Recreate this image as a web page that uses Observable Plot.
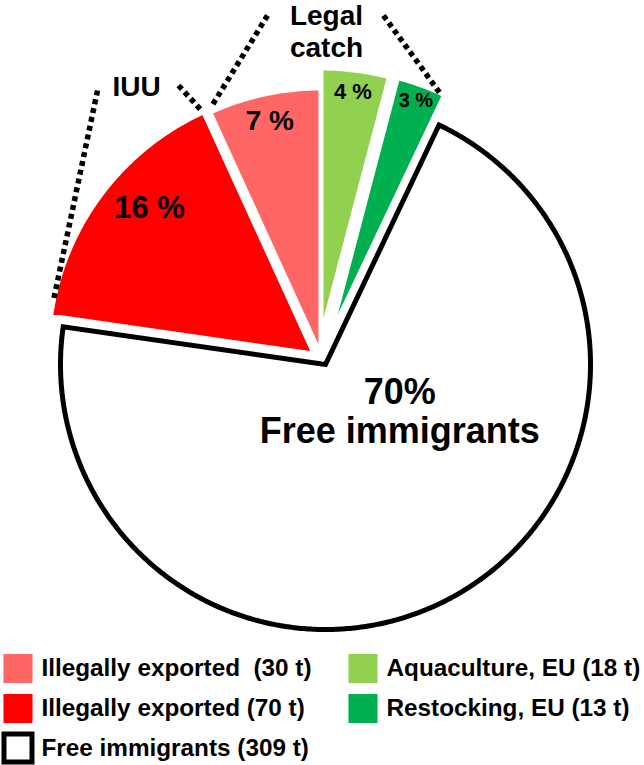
<!DOCTYPE html>
<html><head><meta charset="utf-8">
<script src="https://cdn.jsdelivr.net/npm/d3@7"></script>
<script src="https://cdn.jsdelivr.net/npm/@observablehq/plot@0.6"></script>
<style>body{margin:0;background:#fff} #chart svg{display:block}</style>
</head><body><div id="chart"></div>
<script>
// ---- data ----
const categories = ["Aquaculture, EU", "Restocking, EU", "Free immigrants", "Illegally exported", "Illegally exported"];
const tonnes = [18, 13, 309, 70, 30];
const sliceLabels = ["4 %", "3 %", "70%\nFree immigrants", "16 %", "7 %"];
const legendLabels = ["Aquaculture, EU (18 t)", "Restocking, EU (13 t)", "Free immigrants (309 t)", "Illegally exported (70 t)", "Illegally exported  (30 t)"];
const groupLabels = ["IUU", "Legal\ncatch"];

// ---- styles / layout ----
const colors = ["#92d050", "#00b050", "#ffffff", "#ff0000", "#ff6666"];
const strokes = ["#ffffff", "#ffffff", "#000000", "#ffffff", "#ffffff"];
const strokeWidths = [4, 4, 5, 4, 4];
const W = 644, H = 765, R = 265, CX = 325, CY = 364;
const explode = [[-4, -31], [5, -30], [0, 0], [-12, -11], [-5, -11]];
const labelPolar = [[0.923, 0], [0.94, 0], [0.33, -29.8], [0.83, 5], [0.90, 0]]; // radius fraction, angle tweak (deg)
const labelSizes = [22, 20, 36, 31, 28];
// legend: [column, row] per category
const legendPos = [[1, 0], [1, 1], [0, 2], [0, 1], [0, 0]];
const legendColX = [17.5, 362.5], legendTextX = [41, 386], legendRowY = [668, 708, 747.5];
// annotation brackets
const groupLabelPos = [[136, 85], [326, 30]];
const bracketLines = [
  [[97, 90], [53, 300]],
  [[178, 85], [202, 111]],
  [[267, 15], [211, 106]],
  [[383, 15], [439, 92]]
];

const arcs = d3.pie().sort(null).value(d => d)(tonnes);
const polar = (i, r, a) => [CX + explode[i][0] + r * Math.sin(a), CY + explode[i][1] - r * Math.cos(a)];

const slices = arcs.map((a, i) => {
  const pts = [{x: polar(i, 0, 0)[0], y: polar(i, 0, 0)[1]}];
  const n = Math.max(8, Math.ceil((a.endAngle - a.startAngle) / (Math.PI / 360)));
  for (let k = 0; k <= n; k++) {
    const t = a.startAngle + (a.endAngle - a.startAngle) * k / n;
    const p = polar(i, R, t);
    pts.push({x: p[0], y: p[1]});
  }
  return pts;
});

const labels = arcs.map((a, i) => {
  const mid = (a.startAngle + a.endAngle) / 2 + labelPolar[i][1] * Math.PI / 180;
  const p = polar(i, R * labelPolar[i][0], mid);
  return {x: p[0], y: p[1], text: sliceLabels[i], size: labelSizes[i]};
});

const legend = categories.map((c, i) => ({
  sx: legendColX[legendPos[i][0]], tx: legendTextX[legendPos[i][0]],
  y: legendRowY[legendPos[i][1]], text: legendLabels[i], color: colors[i], i
}));
const legendFilled = legend.filter(d => d.color !== "#ffffff");
const legendOutlined = legend.filter(d => d.color === "#ffffff");

const bracketData = bracketLines.flatMap((seg, k) => seg.map(p => ({x: p[0], y: p[1], k})));
const groupData = groupLabels.map((t, k) => ({x: groupLabelPos[k][0], y: groupLabelPos[k][1], text: t}));

const font = "Arial, 'Liberation Sans', sans-serif";
const sliceMarks = [2, 0, 1, 3, 4].map(i =>
  Plot.line(slices[i], {x: "x", y: "y", curve: "linear-closed", fill: colors[i], stroke: strokes[i],
    strokeWidth: strokeWidths[i], strokeLinejoin: "miter", strokeMiterlimit: 10}));

const chart = Plot.plot({
  width: W, height: H, margin: 0,
  x: {domain: [0, W], range: [0, W], axis: null},
  y: {domain: [0, H], range: [0, H], axis: null},
  style: {fontFamily: font, background: "#fff"},
  marks: [
    ...sliceMarks,
    Plot.line(bracketData, {x: "x", y: "y", z: "k", stroke: "#000", strokeWidth: 5.5, strokeLinecap: "butt", strokeDasharray: "5 4"}),
    Plot.text(labels, {x: "x", y: "y", text: "text", fontSize: d => d.size, fontWeight: "bold", fill: "#000", lineHeight: 1.08, fontFamily: font}),
    Plot.text(groupData, {x: "x", y: "y", text: "text", fontSize: 28, fontWeight: "bold", fill: "#000", lineHeight: 1.14, fontFamily: font}),
    Plot.dot(legendFilled, {x: "sx", y: "y", symbol: "square", r: 16.4, fill: d => d.color, stroke: "none"}),
    Plot.dot(legendOutlined, {x: "sx", y: "y", symbol: "square", r: 15.8, fill: "#fff", stroke: "#000", strokeWidth: 5}),
    Plot.text(legend, {x: "tx", y: "y", text: "text", textAnchor: "start", fontSize: 24.3, fontWeight: "bold", fill: "#000", fontFamily: font})
  ]
});
document.getElementById("chart").appendChild(chart);
</script>
</body></html>
